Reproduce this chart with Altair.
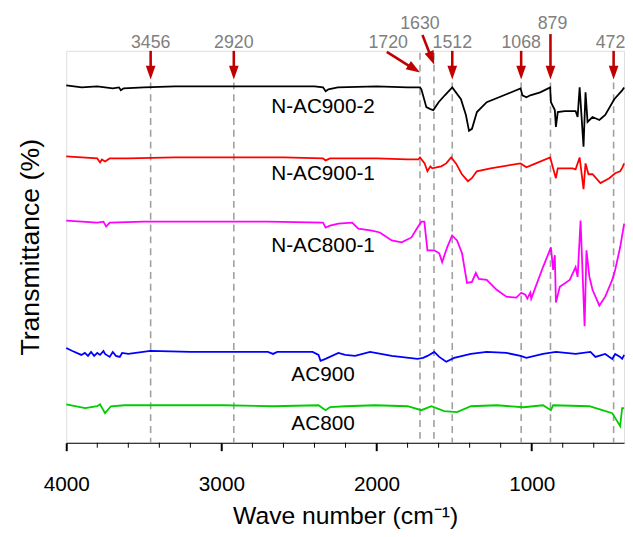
import altair as alt
import pandas as pd

# ---------------- data ----------------
series_names = ["N-AC900-2", "N-AC900-1", "N-AC800-1", "AC900", "AC800"]
series_colors = ["#000000", "#ff0000", "#ff00ff", "#0000ff", "#00cc00"]

# stacked transmittance traces (arbitrary offset units)
black_w = [4000, 3900, 3800, 3700, 3660, 3648, 3630, 3500, 3300, 3000, 2700, 2400, 2345, 2328, 2310, 2250,
           2000, 1800, 1720, 1711, 1679, 1653, 1634, 1600, 1560, 1512, 1456, 1424, 1404, 1385, 1353, 1290,
           1163, 1072, 1060, 1034, 1009, 945, 881, 876, 851, 844, 832, 787, 717, 704, 691, 666, 653, 640,
           608, 564, 526, 468, 417, 404]
black_v = [362, 360, 361, 359, 360, 357, 359, 360, 361, 361, 361, 361, 360, 356, 358, 360,
           361, 360, 360, 358, 340, 338, 337, 345, 352, 360, 348, 332, 316, 318, 335, 345,
           353, 359, 352, 350, 352, 355, 360, 345, 337, 320, 335, 336, 336, 330, 360, 300, 355, 325,
           330, 327, 332, 348, 357, 360]

red_w = [4000, 3900, 3800, 3782, 3770, 3750, 3720, 3600, 3300, 3000, 2600, 2345, 2328, 2300, 2000, 1800,
         1730, 1720, 1690, 1672, 1653, 1641, 1615, 1583, 1551, 1519, 1488, 1450, 1411, 1386, 1354, 1265,
         1072, 1034, 989, 881, 862, 844, 832, 736, 717, 691, 666, 653, 634, 608, 557, 500, 462, 430, 415, 404]
red_v = [290, 289, 288, 284, 287, 285, 288, 288, 289, 289, 289, 288, 286, 288, 288, 287,
         287, 289, 283, 275, 280, 278, 279, 280, 283, 289, 283, 272, 265, 268, 275, 278,
         283, 279, 282, 289, 278, 268, 278, 278, 277, 289, 257, 283, 272, 272, 263, 268, 273, 275, 279, 283]

magenta_w = [4000, 3900, 3800, 3760, 3743, 3720, 3500, 3000, 2700, 2345, 2328, 2300, 2246, 2157, 2118, 2029,
             1979, 1902, 1838, 1775, 1736, 1711, 1692, 1672, 1628, 1596, 1577, 1545, 1513, 1481, 1449, 1417,
             1385, 1360, 1341, 1290, 1226, 1163, 1099, 1067, 1041, 1028, 1009, 1003, 927, 876, 862, 851,
             844, 819, 755, 717, 704, 685, 659, 647, 628, 608, 564, 526, 481, 462, 430, 404]
magenta_v = [225, 224, 223, 224, 219, 223, 224, 224, 224, 223, 218, 220, 222, 223, 217, 215,
             213, 205, 203, 208, 218, 224, 224, 195, 195, 192, 183, 198, 210, 205, 192, 162,
             163, 172, 166, 165, 155, 148, 147, 152, 150, 146, 152, 146, 178, 198, 175, 190,
             142, 158, 165, 178, 168, 225, 118, 195, 168, 155, 139, 148, 165, 175, 198, 222]

blue_w = [4000, 3960, 3903, 3880, 3860, 3840, 3820, 3800, 3782, 3760, 3750, 3720, 3700, 3680, 3655, 3640,
          3600, 3457, 3200, 2985, 2700, 2667, 2640, 2412, 2374, 2361, 2329, 2246, 2202, 2138, 2042, 1902,
          1736, 1700, 1672, 1628, 1596, 1551, 1500, 1392, 1290, 1163, 1072, 1034, 927, 844, 717, 621,
          589, 526, 481, 462, 430, 417, 404]
blue_v = [96, 93, 89, 91, 88, 92, 88, 91, 89, 93, 90, 87, 92, 88, 87, 91,
          90, 93, 92, 92, 92, 90, 92, 92, 89, 83, 85, 91, 89, 88, 92, 88,
          85, 86, 88, 92, 87, 82, 86, 90, 92, 91, 88, 86, 90, 92, 90, 92,
          87, 90, 85, 90, 87, 85, 89]

green_w = [4000, 3878, 3800, 3782, 3750, 3712, 3623, 3300, 2985, 2667, 2374, 2329, 2300, 2202, 2010, 1800,
           1711, 1647, 1564, 1481, 1392, 1226, 1053, 927, 876, 862, 628, 545, 481, 430, 417, 404]
green_v = [39, 35, 37, 39, 30, 37, 38, 38, 38, 37, 38, 33, 36, 37, 38, 37,
           33, 37, 32, 31, 37, 38, 36, 38, 33, 38, 37, 33, 30, 17, 35, 35]

# series labels
label_w = [2345, 2345, 2345, 2345, 2345]
label_v = [340, 272, 199, 69, 19]

# marked peaks
peak_w = [3456, 2920, 1720, 1630, 1512, 1068, 879, 472]
peak_text = ["3456", "2920", "1720", "1630", "1512", "1068", "879", "472"]
peak_label_w = [3456, 2920, 1925, 1720, 1512, 1068, 866, 492]
peak_label_v = [405, 405, 405, 424, 405, 405, 424, 405]
dash_top_v = [365, 365, 395, 395, 365, 365, 365, 365]
arrow_start_w = [3456, 2920, 1934, 1704, 1512, 1068, 879, 472]
arrow_start_v = [397, 397, 396, 413, 397, 397, 414, 397]
shaft_end_w = [3456, 2920, 1763, 1647, 1512, 1068, 879, 472]
shaft_end_v = [376, 376, 379, 390, 376, 376, 376, 376]
arrow_tip_w = [3456, 2920, 1720, 1628, 1512, 1068, 879, 472]
arrow_tip_v = [368, 368, 375, 383, 368, 368, 368, 368]
arrow_angle = [0, 0, 302.5, 338.2, 0, 0, 0, 0]

major_ticks = [4000, 3000, 2000, 1000]
minor_ticks = [3800, 3600, 3400, 3200, 2800, 2600, 2400, 2200, 1800, 1600, 1400, 1200, 800, 600]

# ---------------- tables ----------------
traces = [(black_w, black_v), (red_w, red_v), (magenta_w, magenta_v), (blue_w, blue_v), (green_w, green_v)]
rows = []
for name, (ws, vs) in zip(series_names, traces):
    for i, (w, v) in enumerate(zip(ws, vs)):
        rows.append({"series": name, "w": w, "v": v, "i": i})
spec_df = pd.DataFrame(rows)

lab_df = pd.DataFrame({"series": series_names, "w": label_w, "v": label_v})
peak_df = pd.DataFrame({
    "w": peak_w, "text": peak_text, "lw": peak_label_w, "lv": peak_label_v,
    "dtop": dash_top_v, "dbot": [0] * len(peak_w),
    "aw": arrow_start_w, "av": arrow_start_v, "sw": shaft_end_w, "sv": shaft_end_v,
    "tw": arrow_tip_w, "tv": arrow_tip_v, "ang": arrow_angle,
})
minor_df = pd.DataFrame({"w": minor_ticks})

FONT = "Liberation Sans"
xs = alt.Scale(domain=[405, 4000], reverse=True, nice=False, zero=False)
ys = alt.Scale(domain=[0, 397], nice=False, zero=False)

base_x = alt.X("w:Q", scale=xs, axis=alt.Axis(
    title="Wave number (cm\u207b\u00b9)",
    values=major_ticks, format="d",
    tickSize=8, tickWidth=2,
    tickColor="#000000", domainColor="#000000", domainWidth=1,
    labelFont=FONT, labelFontSize=21, labelColor="#000000", labelPadding=23,
    labelFlush=False, labelOverlap=False,
    titleFont=FONT, titleFontSize=25, titleFontWeight="normal", titleColor="#000000",
    titlePadding=10, grid=False,
))
base_y = alt.Y("v:Q", scale=ys, axis=alt.Axis(
    title="Transmittance (%)", labels=False, ticks=False, domain=False, grid=False,
    titleFont=FONT, titleFontSize=27, titleFontWeight="normal", titleColor="#000000",
    titlePadding=22,
))

minor = alt.Chart(minor_df).mark_rule(color="#000000", strokeWidth=1).encode(
    x=alt.X("w:Q", scale=xs), y=alt.value(397), y2=alt.value(402))

dashes = alt.Chart(peak_df).mark_rule(color="#a0a0a0", strokeWidth=1.6, strokeDash=[7, 5]).encode(
    x=alt.X("w:Q", scale=xs), y=alt.Y("dtop:Q", scale=ys), y2="dbot:Q")

lines = alt.Chart(spec_df).mark_line(strokeWidth=1.8).encode(
    x=base_x, y=base_y,
    color=alt.Color("series:N", scale=alt.Scale(domain=series_names, range=series_colors), legend=None),
    detail="series:N", order="i:Q")

labels = alt.Chart(lab_df).mark_text(font=FONT, fontSize=21, color="#000000", align="center",
                                     baseline="middle").encode(
    x=alt.X("w:Q", scale=xs), y=alt.Y("v:Q", scale=ys), text="series:N")

shafts = alt.Chart(peak_df).mark_rule(color="#c00000", strokeWidth=2.6).encode(
    x=alt.X("aw:Q", scale=xs), x2="sw:Q", y=alt.Y("av:Q", scale=ys), y2="sv:Q")

heads = alt.Chart(peak_df).mark_point(
    shape="M-0.7,-2L0.7,-2L0,0Z", filled=True, size=196, color="#c00000", opacity=1, strokeWidth=0
).encode(x=alt.X("tw:Q", scale=xs), y=alt.Y("tv:Q", scale=ys), angle=alt.Angle("ang:Q", scale=None))

peak_labels = alt.Chart(peak_df).mark_text(font=FONT, fontSize=18, color="#808080", align="center",
                                           baseline="middle").encode(
    x=alt.X("lw:Q", scale=xs), y=alt.Y("lv:Q", scale=ys), text="text:N")

chart = alt.layer(dashes, lines, minor, labels, shafts, heads, peak_labels).properties(
    width=565, height=397,
    autosize=alt.AutoSizeParams(type="none"),
    padding={"left": 59, "top": 40, "right": 1, "bottom": 89},
).configure_view(stroke="#333333", strokeWidth=1).configure(background="white")

chart.save("out.html", embed_options={"renderer": "svg", "actions": False})
